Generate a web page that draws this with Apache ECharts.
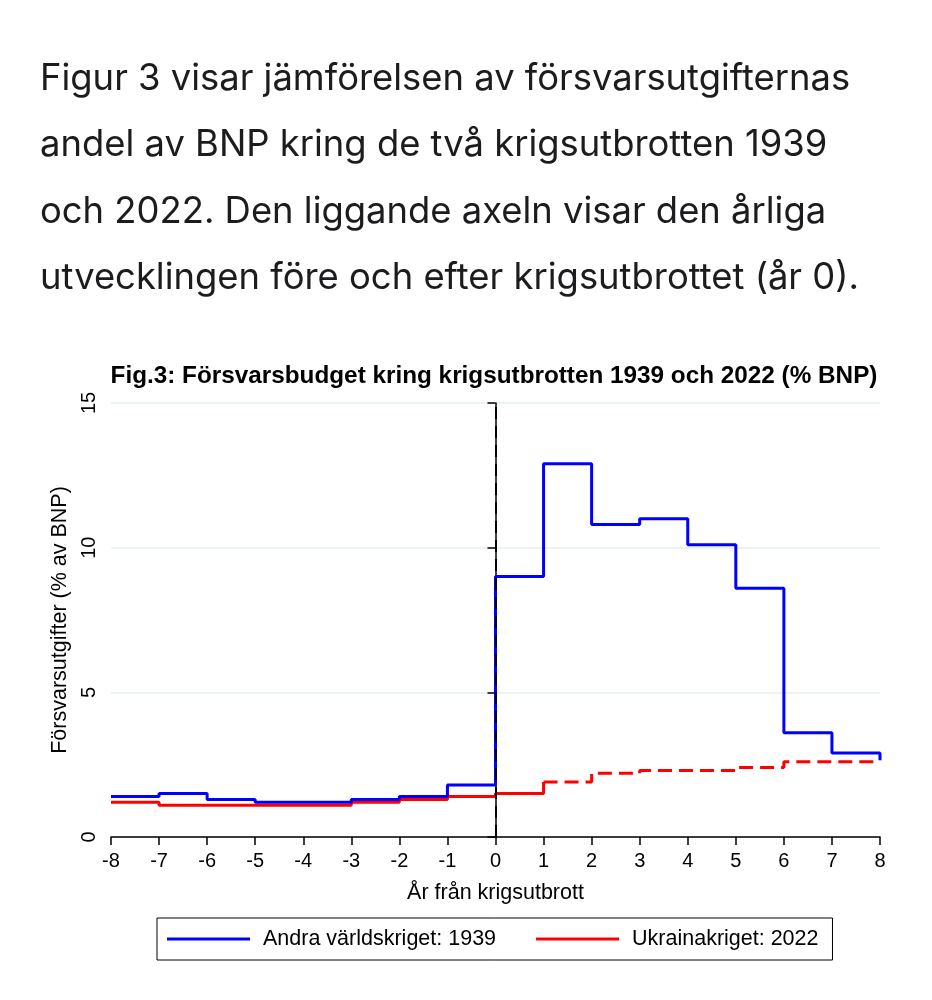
<!DOCTYPE html>
<html>
<head>
<meta charset="utf-8">
<script src="https://cdn.jsdelivr.net/npm/echarts@6/dist/echarts.min.js"></script>
<style>
html,body{margin:0;padding:0;background:#fff;}
#chart{width:932px;height:1000px;}
</style>
</head>
<body>
<div id="chart"></div>
<script>
// Data
var years = [-8,-7,-6,-5,-4,-3,-2,-1,0,1,2,3,4,5,6,7,8];
var ww2 = [1.4,1.5,1.3,1.2,1.2,1.3,1.4,1.8,9.0,12.9,10.8,11.0,10.1,8.6,3.6,2.9,2.65];
var ukr = [1.2,1.1,1.1,1.1,1.1,1.2,1.3,1.4,1.5,1.9,2.2,2.3,2.3,2.4,2.6,2.6,2.6];
var ukrSolidEnd = 1; // solid line up to year 1, dashed after
var yTicks = [0,5,10,15];
var paragraph = [
  'Figur 3 visar jämförelsen av försvarsutgifternas',
  'andel av BNP kring de två krigsutbrotten 1939',
  'och 2022. Den liggande axeln visar den årliga',
  'utvecklingen före och efter krigsutbrottet (år 0).'
];
var chartTitle = 'Fig.3: Försvarsbudget kring krigsutbrotten 1939 och 2022 (% BNP)';
var nameWW2 = 'Andra världskriget: 1939';
var nameUkr = 'Ukrainakriget: 2022';

var ww2Data = years.map(function(x,i){return [x, ww2[i]];});
var ukrSolid = [], ukrDash = [];
years.forEach(function(x,i){
  if (x <= ukrSolidEnd) ukrSolid.push([x, ukr[i]]);
  if (x >= ukrSolidEnd) ukrDash.push([x, ukr[i]]);
});

var chart = echarts.init(document.getElementById('chart'), null, {renderer:'canvas'});
var font = '"Liberation Sans", Arial, sans-serif';
var paraGraphics = paragraph.map(function(t,i){
  return {type:'text', left:40, top: 61 + i*66.5,
    style:{text:t, font:'400 36.4px Inter, "Noto Sans", sans-serif', fill:'#1c1c1e'}};
});

chart.setOption({
  backgroundColor:'#fff',
  animation:false,
  graphic: paraGraphics,
  title:{text:chartTitle, left:489, textAlign:'center', top:359,
    textStyle:{fontFamily:font, fontWeight:'bold', fontSize:24.3, color:'#000'}},
  grid:{left:111, right:52, top:403, bottom:163},
  legend:{
    data:[nameWW2, nameUkr], left:157, top:918, orient:'horizontal',
    borderColor:'#000', borderWidth:1, borderRadius:0,
    padding:[10,14,10,10], itemWidth:83, itemHeight:3, itemGap:40, icon:'rect',
    textStyle:{fontFamily:font, fontSize:21.5, color:'#000', padding:[0,0,0,8]}
  },
  xAxis:{
    type:'value', min:-8, max:8, interval:1,
    name:'År från krigsutbrott', nameLocation:'middle', nameGap:45,
    nameTextStyle:{fontFamily:font, fontSize:21.5, color:'#000'},
    axisLine:{onZero:false, lineStyle:{color:'#000', width:1.5}},
    axisTick:{show:true, length:8, lineStyle:{color:'#000', width:1.5}},
    axisLabel:{fontFamily:font, fontSize:20, color:'#000', margin:14},
    splitLine:{show:false}
  },
  yAxis:{
    type:'value', min:0, max:15, interval:5,
    name:'Försvarsutgifter (% av BNP)', nameLocation:'middle', nameGap:32,
    nameTextStyle:{fontFamily:font, fontSize:21.5, color:'#000'},
    axisLine:{show:true, lineStyle:{color:'#000', width:1.5}},
    axisTick:{show:true, length:8, lineStyle:{color:'#000', width:1.5}},
    axisLabel:{fontFamily:font, fontSize:20, color:'#000', rotate:90, margin:12,
      formatter:function(v){return yTicks.indexOf(v)>=0 ? String(v) : '';}},
    splitLine:{show:true, lineStyle:{color:'#e6eff1', width:1.5}}
  },
  series:[
    {name:nameWW2, type:'line', step:'end', data:ww2Data, symbol:'none',
      lineStyle:{color:'#0000ff', width:3}, itemStyle:{color:'#0000ff'}, z:3,
      markLine:{silent:true, symbol:'none', label:{show:false},
        lineStyle:{color:'#000', type:[12,7], width:2},
        data:[{xAxis:0}]}},
    {name:nameUkr, type:'line', step:'end', data:ukrSolid, symbol:'none',
      lineStyle:{color:'#ff0000', width:3}, itemStyle:{color:'#ff0000'}, z:2},
    {name:nameUkr+' (prognos)', type:'line', step:'end', data:ukrDash, symbol:'none',
      lineStyle:{color:'#ff0000', width:3, type:[14,7]}, itemStyle:{color:'#ff0000'}, z:2}
  ]
});
</script>
</body>
</html>
